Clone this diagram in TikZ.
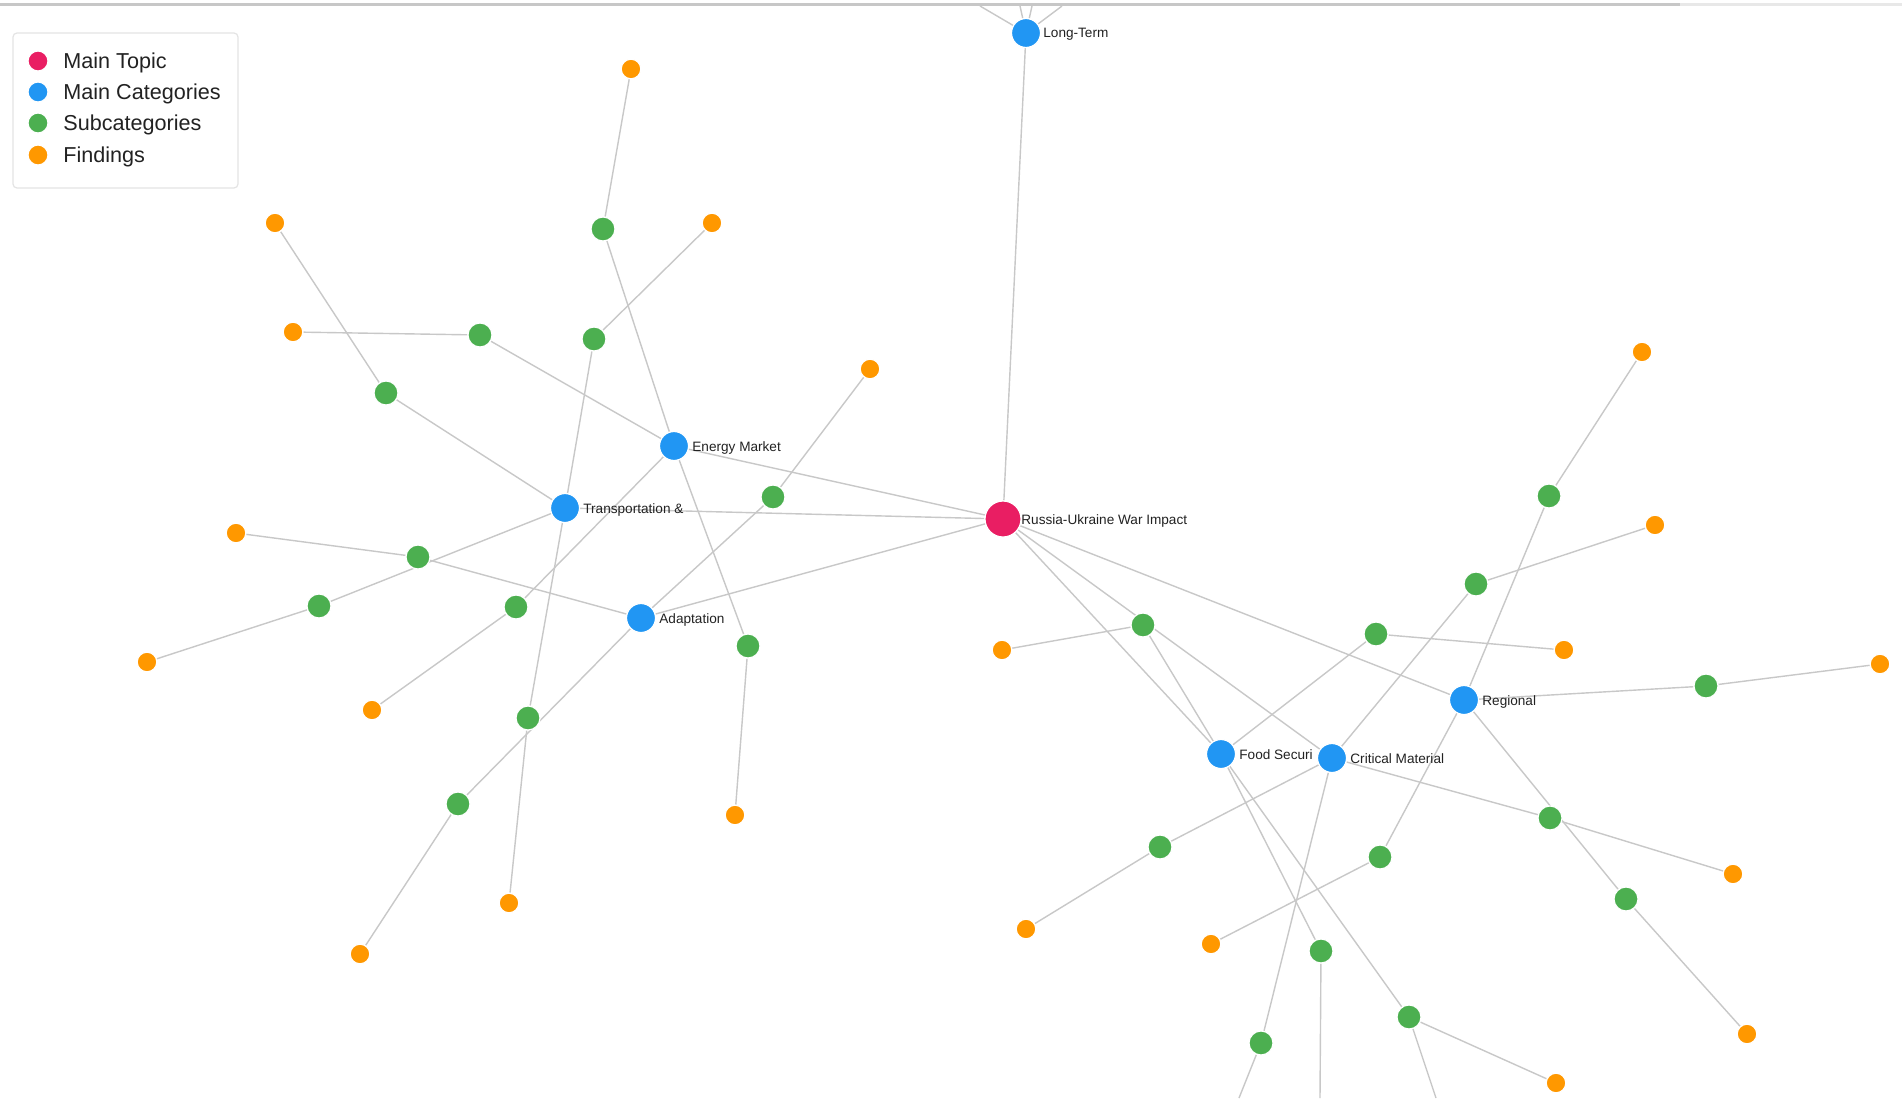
\documentclass[tikz,border=0pt]{standalone}
\usepackage{fontspec}
\setmainfont{Liberation Sans}
\usetikzlibrary{backgrounds}
\definecolor{cred}{HTML}{E91E63}
\definecolor{cblue}{HTML}{2196F3}
\definecolor{cgreen}{HTML}{4CAF50}
\definecolor{corange}{HTML}{FF9800}
\definecolor{cedge}{HTML}{C8C8C8}
\definecolor{ctext}{HTML}{222222}
\definecolor{cframe}{HTML}{E4E4E4}
\begin{document}
\begin{tikzpicture}[x=0.5pt,y=-0.5pt,
  dot/.style={circle,inner sep=0pt,draw=white,line width=0.6pt},
  topic/.style={dot,fill=cred,minimum size=18pt},
  cat/.style={dot,fill=cblue,minimum size=14.5pt},
  sub/.style={dot,fill=cgreen,minimum size=12pt},
  find/.style={dot,fill=corange,minimum size=9.8pt},
  legdot/.style={dot,minimum size=10pt},
  edge/.style={draw=cedge,line width=0.7pt},
  lab/.style={anchor=base west,inner sep=0pt,font=\fontsize{6.8}{8}\selectfont,text=ctext},
  legtxt/.style={anchor=base west,inner sep=0pt,font=\fontsize{10.8}{13}\selectfont,text=ctext}]
\useasboundingbox (0,0) rectangle (1902,1119);

% main topic and categories
\node[topic] (R) at (1003,519) {};
\node[cat] (LT) at (1026,33) {};
\node[cat] (EM) at (674,446) {};
\node[cat] (TR) at (565,508) {};
\node[cat] (AD) at (641,618) {};
\node[cat] (FS) at (1221,754) {};
\node[cat] (CM) at (1332,758) {};
\node[cat] (RG) at (1464,700) {};

% subcategories
\node[sub] (g1) at (603,229) {};
\node[sub] (g2) at (480,335) {};
\node[sub] (g3) at (594,339) {};
\node[sub] (g4) at (386,393) {};
\node[sub] (g5) at (773,497) {};
\node[sub] (g6) at (418,557) {};
\node[sub] (g7) at (319,606) {};
\node[sub] (g8) at (516,607) {};
\node[sub] (g9) at (748,646) {};
\node[sub] (g10) at (528,718) {};
\node[sub] (g11) at (458,804) {};
\node[sub] (g12) at (1143,625) {};
\node[sub] (g13) at (1376,634) {};
\node[sub] (g14) at (1476,584) {};
\node[sub] (g15) at (1549,496) {};
\node[sub] (g16) at (1706,686) {};
\node[sub] (g17) at (1160,847) {};
\node[sub] (g18) at (1380,857) {};
\node[sub] (g19) at (1550,818) {};
\node[sub] (g20) at (1626,899) {};
\node[sub] (g21) at (1321,951) {};
\node[sub] (g22) at (1409,1017) {};
\node[sub] (g23) at (1261,1043) {};

% findings
\node[find] (o1) at (631,69) {};
\node[find] (o2) at (275,223) {};
\node[find] (o3) at (712,223) {};
\node[find] (o4) at (293,332) {};
\node[find] (o5) at (870,369) {};
\node[find] (o6) at (236,533) {};
\node[find] (o7) at (147,662) {};
\node[find] (o8) at (372,710) {};
\node[find] (o9) at (735,815) {};
\node[find] (o10) at (509,903) {};
\node[find] (o11) at (360,954) {};
\node[find] (o12) at (1002,650) {};
\node[find] (o13) at (1642,352) {};
\node[find] (o14) at (1655,525) {};
\node[find] (o15) at (1564,650) {};
\node[find] (o16) at (1880,664) {};
\node[find] (o17) at (1733,874) {};
\node[find] (o18) at (1026,929) {};
\node[find] (o19) at (1211,944) {};
\node[find] (o20) at (1747,1034) {};
\node[find] (o21) at (1556,1083) {};

% free ends leaving the view
\coordinate (t1) at (980,6);
\coordinate (t2) at (1020,6);
\coordinate (t3) at (1032,6);
\coordinate (t4) at (1062,6);
\coordinate (b21) at (1320,1098);
\coordinate (b22) at (1436,1098);
\coordinate (b23) at (1239,1098);

\begin{scope}[on background layer]
  \fill[white] (0,0) rectangle (1902,1119);
  \foreach \a/\b in {R/LT,R/EM,R/TR,R/AD,R/FS,R/CM,R/RG,
     EM/g1,EM/g2,EM/g8,EM/g9,
     TR/g3,TR/g4,TR/g7,TR/g10,
     AD/g5,AD/g6,AD/g11,
     FS/g12,FS/g13,FS/g21,FS/g22,
     CM/g14,CM/g17,CM/g19,CM/g23,
     RG/g15,RG/g16,RG/g18,RG/g20,
     g1/o1,g2/o4,g3/o3,g4/o2,g5/o5,g6/o6,g7/o7,g8/o8,g9/o9,g10/o10,g11/o11,
     g12/o12,g13/o15,g14/o14,g15/o13,g16/o16,g17/o18,g18/o19,g19/o17,g20/o20,g22/o21,
     g21/b21,g22/b22,g23/b23,LT/t1,LT/t2,LT/t3,LT/t4}
    \draw[edge] (\a) -- (\b);
  % top border
  \draw[draw=black!22,line width=1.5pt] (0,4) -- (1680,4);
  \draw[draw=black!9,line width=1.5pt] (1680,4) -- (1902,4);
\end{scope}

% labels
\node[lab] (lR) at (1021,524) {Russia-Ukraine War Impact};
\node[lab] (lLT) at (1043,38) {Long-Term};
\node[lab] (lEM) at (692,451) {Energy Market};
\node[lab] (lTR) at (583,513) {Transportation \&};
\node[lab] (lAD) at (659,623) {Adaptation};
\node[lab] (lFS) at (1239,759) {Food Securi};
\node[lab] (lCM) at (1350,763) {Critical Material};
\node[lab] (lRG) at (1482,705) {Regional};

% legend
\draw[draw=cframe,fill=white,line width=0.6pt,rounded corners=2pt] (13,33) rectangle (238,188);
\node[legdot,fill=cred] (k1) at (38,61) {};
\node[legdot,fill=cblue] (k2) at (38,92) {};
\node[legdot,fill=cgreen] (k3) at (38,123) {};
\node[legdot,fill=corange] (k4) at (38,155) {};
\node[legtxt] (kt1) at (63,68.5) {Main Topic};
\node[legtxt] (kt2) at (63,99.5) {Main Categories};
\node[legtxt] (kt3) at (63,130.5) {Subcategories};
\node[legtxt] (kt4) at (63,162.5) {Findings};
\end{tikzpicture}
\end{document}
